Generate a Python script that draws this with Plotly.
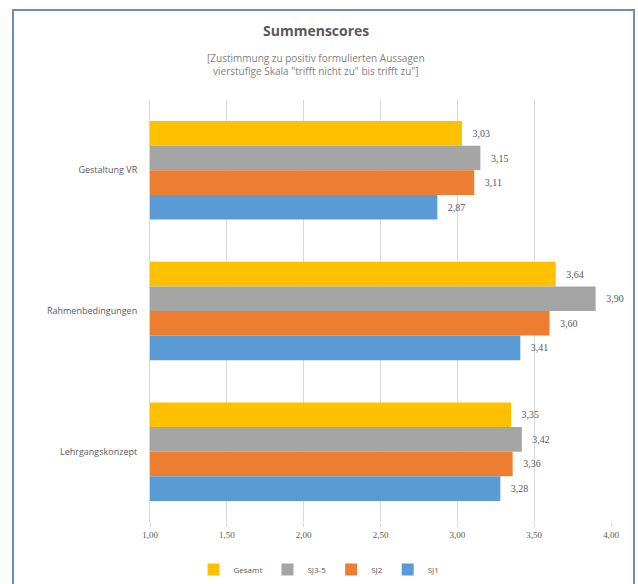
import plotly.graph_objects as go

categories = ["Gestaltung VR", "Rahmenbedingungen", "Lehrgangskonzept"]
series_names = ["Gesamt", "SJ3-5", "SJ2", "SJ1"]
gesamt = [3.03, 3.64, 3.35]
sj35 = [3.15, 3.90, 3.42]
sj2 = [3.11, 3.60, 3.36]
sj1 = [2.87, 3.41, 3.28]
colors = ["#FFC000", "#A5A5A5", "#ED7D31", "#5B9BD5"]
values = [gesamt, sj35, sj2, sj1]
xticks = [1.0, 1.5, 2.0, 2.5, 3.0, 3.5, 4.0]

fig = go.Figure()
for name, vals, col in zip(series_names, values, colors):
    fig.add_trace(go.Bar(
        y=categories, x=vals, name=name, orientation="h",
        marker=dict(color=col, line=dict(width=0)),
        texttemplate="\u00a0\u00a0\u00a0%{x:.2f}", textposition="outside",
        textfont=dict(size=10, color="#595959", family="Liberation Serif"),
        cliponaxis=False,
    ))

fig.update_layout(
    width=638, height=584,
    margin=dict(l=150, r=27, t=100, b=62),
    paper_bgcolor="white", plot_bgcolor="white",
    separators=",.",
    barmode="group", bargap=0.3, bargroupgap=0,
    font=dict(family="Open Sans", color="#595959", size=9),
    showlegend=True,
    legend=dict(orientation="h", xref="container", yref="container",
                x=0.5, xanchor="center", y=0.025, yanchor="middle",
                traceorder="normal", font=dict(size=8, color="#595959"),
                itemwidth=30, itemsizing="constant"),
    xaxis=dict(range=[1, 4], tickvals=xticks, tickformat=".2f",
               showgrid=True, gridcolor="#D9D9D9", gridwidth=1,
               zeroline=False, showline=False,
               ticks="outside", ticklen=4, tickcolor="#D9D9D9",
               tickfont=dict(size=9, color="#595959", family="Liberation Serif")),
    yaxis=dict(autorange="reversed", showline=True, linecolor="#D9D9D9", linewidth=1,
               ticks="", ticklabelstandoff=10,
               tickfont=dict(size=9, color="#595959")),
    annotations=[
        dict(text="<b>Summenscores</b>", xref="paper", yref="paper",
             x=0.36, y=1.165, xanchor="center", yanchor="middle", showarrow=False,
             font=dict(size=14, color="#595959")),
        dict(text="[Zustimmung zu positiv formulierten Aussagen<br>vierstufige Skala \"trifft nicht zu\" bis trifft zu\"]",
             xref="paper", yref="paper", x=0.36, y=1.085, xanchor="center", yanchor="middle",
             showarrow=False, font=dict(size=10, color="#7F7F7F")),
    ],
    shapes=[
        dict(type="rect", xref="paper", yref="paper",
             x0=(13 - 150) / 461, x1=(634 - 150) / 461,
             y0=(522 - 600) / 422, y1=1 + (100 - 10) / 422,
             line=dict(color="#6F8FB0", width=2), fillcolor="rgba(0,0,0,0)", layer="above"),
    ],
)

fig.write_html("out.html")
